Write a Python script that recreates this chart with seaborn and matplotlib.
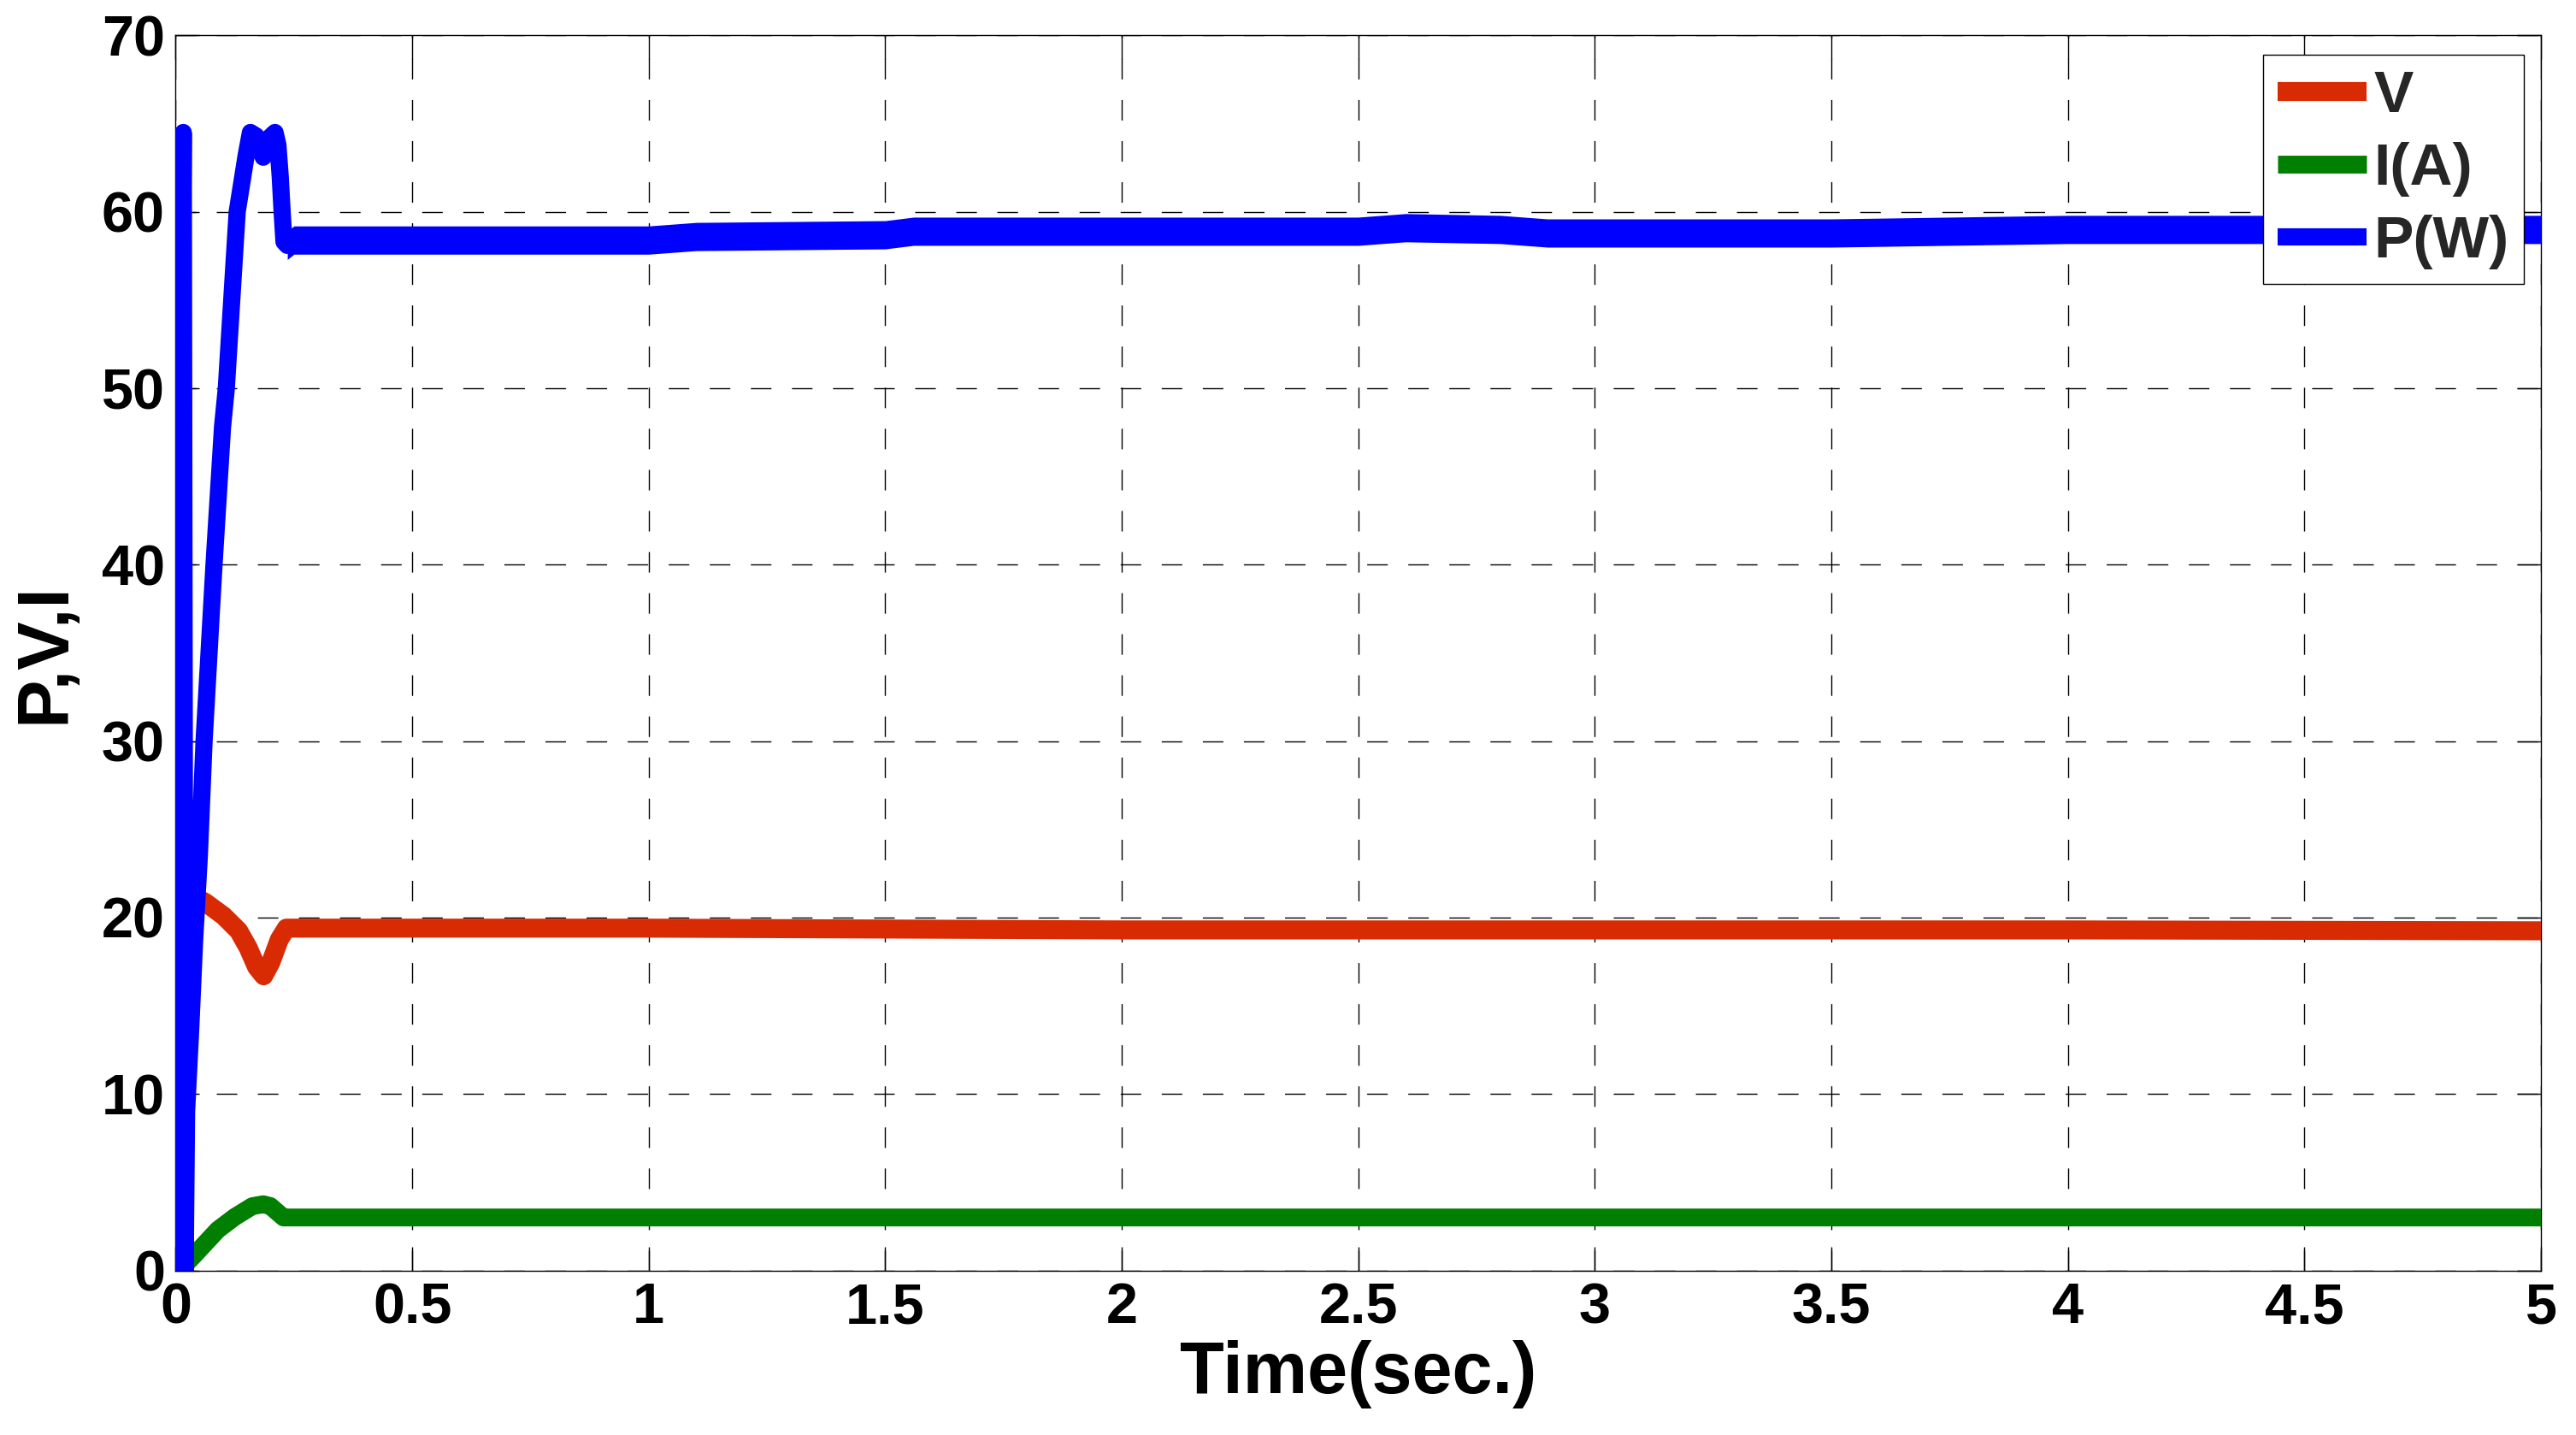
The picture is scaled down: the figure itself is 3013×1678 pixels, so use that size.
import matplotlib
matplotlib.use('Agg')
import matplotlib.pyplot as plt
import numpy as np
import pandas as pd
import seaborn as sns

# values (time in seconds)
t_p = [0, 0.016, 0.020, 0.023, 0.032, 0.040, 0.050, 0.060, 0.081, 0.099, 0.107,
       0.130, 0.149, 0.158, 0.170, 0.185, 0.198, 0.210, 0.216, 0.221, 0.225,
       0.229, 0.236, 0.25, 1.0, 1.1, 1.5, 1.56, 2.0, 2.5, 2.6, 2.8, 2.9, 3.5,
       4.0, 5.0]
p_w = [0, 64.5, 0, 9, 13.8, 18.7, 23.5, 30, 40, 47.8, 50,
       60, 63.2, 64.5, 64.3, 63.1, 64.2, 64.5, 63.8, 62, 60,
       58.3, 58.1, 58.4, 58.4, 58.6, 58.7, 58.9, 58.9, 58.9, 59.1, 59.0, 58.8, 58.8,
       59.0, 59.0]
p_ripple = 0.8

t_v = [0, 0.012, 0.030, 0.063, 0.101, 0.133, 0.153, 0.171, 0.186, 0.201,
       0.219, 0.234, 0.25, 1.0, 2.0, 3.0, 4.0, 5.0]
v = [0, 21.5, 21.3, 20.85, 20.1, 19.25, 18.3, 17.2, 16.7, 17.45,
     18.75, 19.4, 19.4, 19.4, 19.3, 19.3, 19.3, 19.25]

t_i = [0, 0.010, 0.037, 0.089, 0.125, 0.162, 0.185, 0.200, 0.215, 0.228, 0.25, 5.0]
i_a = [0, 0.05, 0.8, 2.3, 3.03, 3.64, 3.75, 3.65, 3.3, 3.0, 3.0, 3.0]

x_ticks = [0, 0.5, 1, 1.5, 2, 2.5, 3, 3.5, 4, 4.5, 5]
x_labels = ['0', '0.5', '1', '1.5', '2', '2.5', '3', '3.5', '4', '4.5', '5']
y_ticks = [0, 10, 20, 30, 40, 50, 60, 70]

sns.set_theme(style='white')
plt.rcParams['font.family'] = ['Liberation Sans', 'DejaVu Sans']

fig = plt.figure(figsize=(30.13, 16.78), dpi=100)
ax = fig.add_axes([0.0682, 0.1147, 0.9182, 0.8606])

line_kw = dict(estimator=None, sort=False, solid_capstyle='round',
               solid_joinstyle='round', ax=ax)
sns.lineplot(x=t_v, y=v, color='#D92B03', linewidth=16, label='V', zorder=3, **line_kw)
sns.lineplot(x=t_i, y=i_a, color='#007F00', linewidth=15, label='I(A)', zorder=3, **line_kw)
sns.lineplot(x=t_p, y=p_w, color='#0000FF', linewidth=14.5, label='P(W)', zorder=4, **line_kw)

# ripple band of the power trace in steady state
t_s = np.array(t_p[22:])
p_s = np.array(p_w[22:])
ax.fill_between(t_s, p_s - p_ripple, p_s + p_ripple, color='#0000FF', lw=0, zorder=4)

ax.set_xlim(0, 5)
ax.set_ylim(0, 70)
ax.set_xticks(x_ticks, x_labels, fontweight='bold')
ax.set_yticks(y_ticks, [str(y) for y in y_ticks], fontweight='bold')
ax.tick_params(axis='both', direction='in', length=20, width=1, colors='black',
               labelsize=48, top=True, right=True, bottom=True, left=True)
ax.tick_params(axis='x', pad=10)
ax.tick_params(axis='y', pad=9)
ax.grid(True, color='black', linestyle=(0, (17.3, 17.3)), linewidth=1.0)
ax.set_axisbelow(True)
for s in ax.spines.values():
    s.set_color('black')
    s.set_linewidth(1.0)

ax.set_xlabel('Time(sec.)', fontsize=61, fontweight='bold', labelpad=4, color='black')
ax.set_ylabel('P,V,I', fontsize=61, fontweight='bold', labelpad=18, color='black')

leg = ax.legend(loc='upper right', bbox_to_anchor=(0.9928, 0.9844), borderaxespad=0,
                prop={'size': 50, 'weight': 'bold'}, frameon=True, fancybox=False,
                framealpha=1, edgecolor='black', handlelength=1.5, handletextpad=0.12,
                labelspacing=0.3, borderpad=0.25)
leg.get_frame().set_linewidth(1.0)
for line in leg.get_lines():
    line.set_solid_capstyle('butt')

fig.savefig('out.png', dpi=100)
